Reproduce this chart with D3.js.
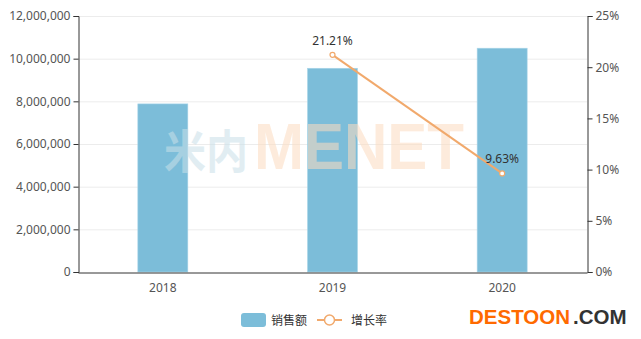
<!DOCTYPE html>
<html>
<head>
<meta charset="utf-8">
<script src="https://cdn.jsdelivr.net/npm/d3@7/dist/d3.min.js"></script>
<style>
  body { margin: 0; background: #fff; }
  svg text { font-family: "Noto Sans", "Noto Sans CJK SC", sans-serif; }
</style>
</head>
<body>
<div id="chart"></div>
<script>
// datos
const YEARS = ["2018", "2019", "2020"];
const SALES = [7880000, 9550000, 10490000];
const GROWTH = [null, 21.21, 9.63];
const LEFT_TICKS = [0, 2000000, 4000000, 6000000, 8000000, 10000000, 12000000];
const RIGHT_TICKS = [0, 5, 10, 15, 20, 25];
const LEGEND = ["销售额", "增长率"];

const WIDTH = 641;
const HEIGHT = 339;
const MARGIN = { top: 16, bottom: 67, left: 78, right: 54 };

const BAR_COLOR = "#7cbdd9";
const LINE_COLOR = "#f1a96c";

const SVG = d3.select("#chart").append("svg")
    .attr("width", WIDTH).attr("height", HEIGHT);

const escalaX = d3.scaleBand()
    .domain(YEARS)
    .range([MARGIN.left, WIDTH - MARGIN.right]);

const escalaY = d3.scaleLinear()
    .domain([0, 12000000])
    .range([HEIGHT - MARGIN.bottom, MARGIN.top]);

const escalaY2 = d3.scaleLinear()
    .domain([0, 25])
    .range([HEIGHT - MARGIN.bottom, MARGIN.top]);

// grid
SVG.append("g")
    .selectAll("line")
    .data(LEFT_TICKS.slice(1))
    .join("line")
    .attr("x1", MARGIN.left).attr("x2", WIDTH - MARGIN.right)
    .attr("y1", d => escalaY(d) + 0.5).attr("y2", d => escalaY(d) + 0.5)
    .attr("stroke", "#ececec");

// barras
const barW = 50;
SVG.append("g")
    .selectAll("rect")
    .data(YEARS)
    .join("rect")
    .attr("x", d => escalaX(d) + escalaX.bandwidth() / 2 - barW / 2)
    .attr("y", (d, i) => escalaY(SALES[i]))
    .attr("width", barW)
    .attr("height", (d, i) => escalaY(0) - escalaY(SALES[i]))
    .attr("fill", BAR_COLOR)
    .attr("stroke", "#a9d5e8")
    .attr("stroke-width", 0.6);

// marca de agua
const wm = SVG.append("g").attr("opacity", 0.55);
wm.append("text")
    .attr("x", 164).attr("y", 168)
    .attr("textLength", 84).attr("lengthAdjust", "spacingAndGlyphs")
    .attr("font-size", 46).attr("font-weight", "bold")
    .attr("fill", "#c9e0e9")
    .text("米内");
wm.append("text")
    .attr("x", 254).attr("y", 169)
    .attr("textLength", 210).attr("lengthAdjust", "spacingAndGlyphs")
    .attr("font-size", 64).attr("font-weight", "bold")
    .style("font-family", "'Liberation Sans', Arial, sans-serif")
    .attr("fill", "#fddcc0")
    .text("MENET");

// ejes
const ejeIzq = d3.axisLeft(escalaY)
    .tickValues(LEFT_TICKS)
    .tickFormat(d3.format(","))
    .tickSize(5);
const gIzq = SVG.append("g")
    .attr("transform", `translate(${MARGIN.left + 0.5},0)`)
    .call(ejeIzq);

const ejeDer = d3.axisRight(escalaY2)
    .tickValues(RIGHT_TICKS)
    .tickFormat(d => d + "%")
    .tickSize(5);
const gDer = SVG.append("g")
    .attr("transform", `translate(${WIDTH - MARGIN.right + 0.5},0)`)
    .call(ejeDer);

const ejeX = d3.axisBottom(escalaX).tickSize(0).tickPadding(9);
const gX = SVG.append("g")
    .attr("transform", `translate(0,${HEIGHT - MARGIN.bottom + 0.5})`)
    .call(ejeX);

[gIzq, gDer, gX].forEach(g => {
    g.select(".domain").attr("stroke", "#333");
    g.selectAll(".tick line").attr("stroke", "#333");
    g.selectAll("text").attr("fill", "#555").attr("font-size", 12)
        .style("font-family", "'Noto Sans', sans-serif");
});
gX.selectAll("text").attr("dy", "0.9em");
gIzq.selectAll("text").attr("x", -8);
gDer.selectAll("text").attr("x", 8);

// linea de crecimiento
const puntos = YEARS.map((y, i) => ({ year: y, v: GROWTH[i] })).filter(d => d.v !== null);
const linea = d3.line()
    .x(d => escalaX(d.year) + escalaX.bandwidth() / 2)
    .y(d => escalaY2(d.v));

SVG.append("path")
    .datum(puntos)
    .attr("fill", "none")
    .attr("stroke", LINE_COLOR)
    .attr("stroke-width", 2)
    .attr("d", linea);

SVG.append("g")
    .selectAll("circle")
    .data(puntos)
    .join("circle")
    .attr("cx", d => escalaX(d.year) + escalaX.bandwidth() / 2)
    .attr("cy", d => escalaY2(d.v))
    .attr("r", 2.5)
    .attr("fill", "#fff")
    .attr("stroke", LINE_COLOR)
    .attr("stroke-width", 1.2);

SVG.append("g")
    .selectAll("text")
    .data(puntos)
    .join("text")
    .attr("x", d => escalaX(d.year) + escalaX.bandwidth() / 2)
    .attr("y", d => escalaY2(d.v) - 10)
    .attr("text-anchor", "middle")
    .attr("font-size", 12)
    .attr("fill", "#333")
    .text(d => d.v.toFixed(2) + "%");

// leyenda
const ley = SVG.append("g");
ley.append("rect")
    .attr("x", 241).attr("y", 313).attr("width", 25).attr("height", 14)
    .attr("rx", 3).attr("fill", BAR_COLOR);
ley.append("text")
    .attr("x", 271).attr("y", 324.5)
    .attr("font-size", 12).attr("fill", "#333")
    .text(LEGEND[0]);
ley.append("line")
    .attr("x1", 317).attr("x2", 342).attr("y1", 320).attr("y2", 320)
    .attr("stroke", LINE_COLOR).attr("stroke-width", 2);
ley.append("circle")
    .attr("cx", 329.5).attr("cy", 320).attr("r", 5)
    .attr("fill", "#fff").attr("stroke", LINE_COLOR).attr("stroke-width", 1.5);
ley.append("text")
    .attr("x", 351).attr("y", 324.5)
    .attr("font-size", 12).attr("fill", "#333")
    .text(LEGEND[1]);

// logo
SVG.append("text")
    .attr("x", 469).attr("y", 324)
    .attr("font-size", 20.5).attr("font-weight", "bold")
    .style("font-family", "'Liberation Sans', Arial, sans-serif")
    .attr("fill", "#ff6a00")
    .text("DESTOON");
SVG.append("text")
    .attr("x", 573).attr("y", 324)
    .attr("font-size", 20.5).attr("font-weight", "bold")
    .style("font-family", "'Liberation Sans', Arial, sans-serif")
    .attr("fill", "#333")
    .text(".COM");
</script>
</body>
</html>
